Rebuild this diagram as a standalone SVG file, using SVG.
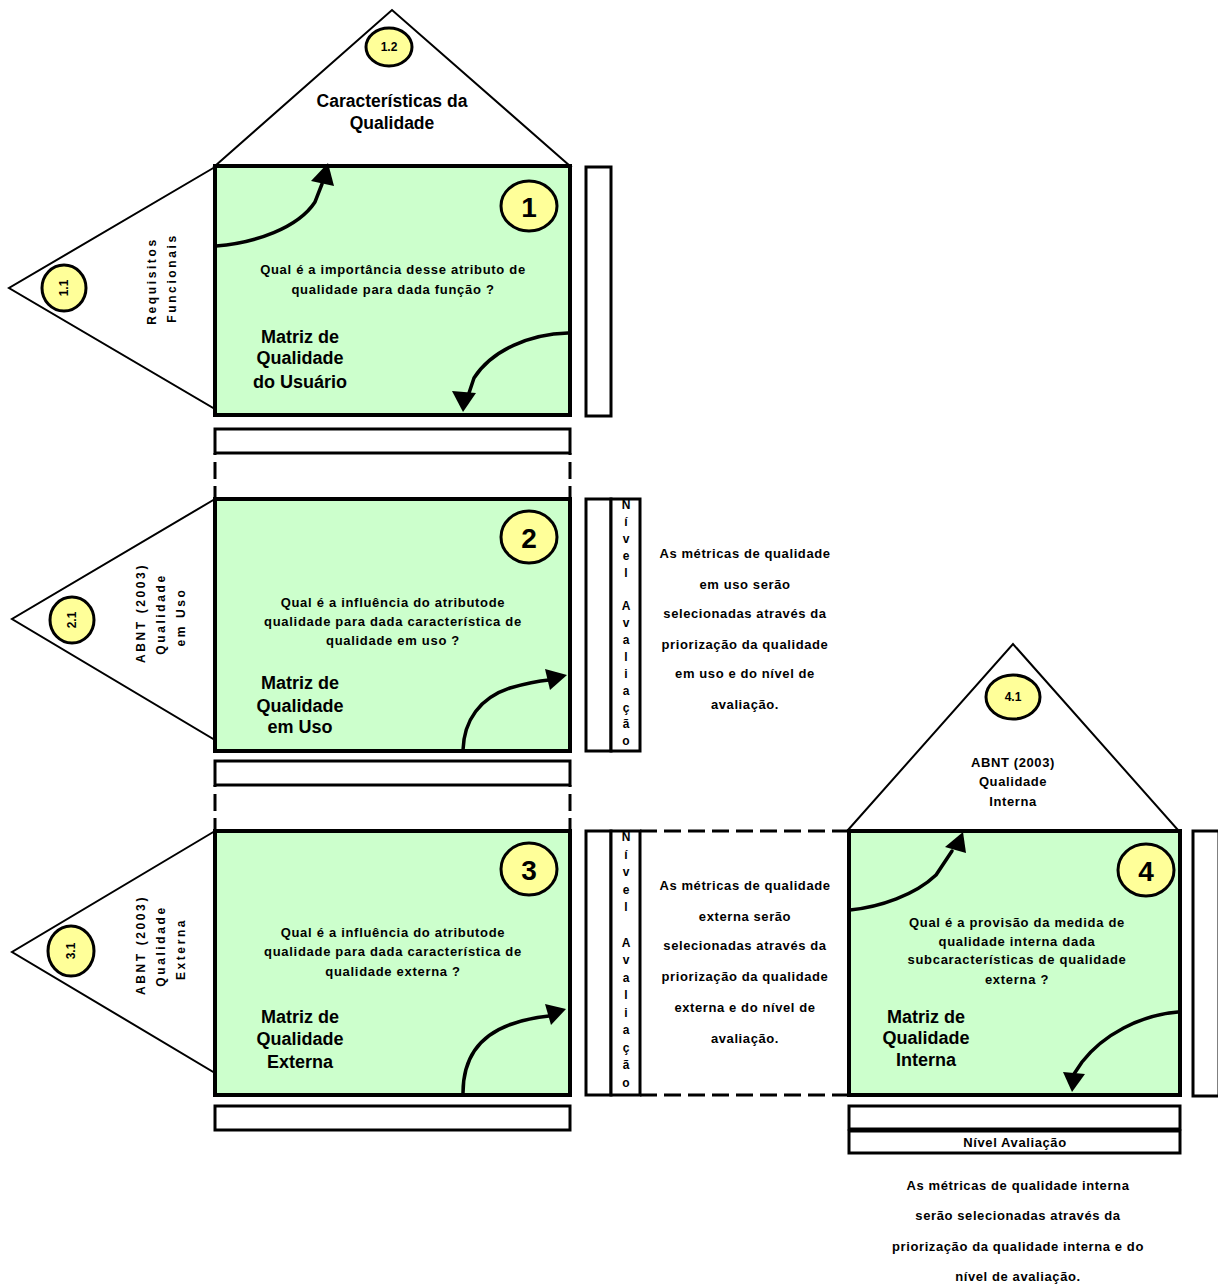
<svg xmlns="http://www.w3.org/2000/svg" width="1218" height="1284" viewBox="0 0 1218 1284">
  <style>
    .box { fill: #CCFFCC; stroke: #000; stroke-width: 4; }
    .tri { fill: #fff; stroke: #000; stroke-width: 2; stroke-linejoin: miter; }
    .bar { fill: #fff; stroke: #000; stroke-width: 3; }
    .badge { fill: #FFFF99; stroke: #000; stroke-width: 3; }
    .dash { fill: none; stroke: #000; stroke-width: 3; stroke-dasharray: 17 7; }
    .arr { fill: none; stroke: #000; stroke-width: 3.5; stroke-linecap: round; }
    .head { fill: #000; }
    text { font-family: "Liberation Sans", Arial, sans-serif; font-weight: bold; fill: #000; text-anchor: middle; dominant-baseline: central; }
    .q { font-size: 13px; letter-spacing: 0.7px; }
    .title { font-size: 18px; }
    .roof { font-size: 17.5px; }
    .side { font-size: 12px; letter-spacing: 2.6px; }
    .num { font-size: 28px; }
    .sub { font-size: 12px; }
    .note { font-size: 13px; letter-spacing: 0.6px; }
    .col { font-size: 12px; }
  </style>

  <!-- Matrix 1: user quality -->
  <g id="matrix-1">
    <polygon class="tri" points="215,166 392,10 570,166"/>
    <polygon class="tri" points="215,167 9,288 215,409"/>
    <rect class="box" x="215" y="166" width="355" height="249"/>
    <rect class="bar" x="586" y="167" width="25" height="249"/>
    <ellipse class="badge" cx="389" cy="47" rx="23" ry="19"/>
    <text class="sub" x="389" y="47">1.2</text>
    <text class="roof" x="392" y="101">Características da</text>
    <text class="roof" x="392" y="123">Qualidade</text>
    <ellipse class="badge" cx="64" cy="288" rx="22" ry="23"/>
    <text class="sub" transform="translate(64,288) rotate(-90)">1.1</text>
    <text class="side" transform="translate(152,281) rotate(-90)">Requisitos</text>
    <text class="side" transform="translate(172,278) rotate(-90)">Funcionais</text>
    <ellipse class="badge" cx="529" cy="206" rx="28" ry="25"/>
    <text class="num" x="529" y="207">1</text>
    <text class="q" x="393" y="269">Qual é a importância desse atributo de</text>
    <text class="q" x="393" y="289">qualidade para dada função ?</text>
    <text class="title" x="300" y="337">Matriz de</text>
    <text class="title" x="300" y="358">Qualidade</text>
    <text class="title" x="300" y="382">do Usuário</text>
    <rect class="bar" x="215" y="429" width="355" height="24"/>
  </g>

  <!-- Matrix 2: quality in use -->
  <g id="matrix-2">
    <polygon class="tri" points="215,499 12,619 215,740"/>
    <rect class="box" x="215" y="499" width="355" height="252"/>
    <rect class="bar" x="586" y="499" width="25" height="252"/>
    <rect class="bar" x="611" y="499" width="29" height="252"/>
    <ellipse class="badge" cx="72" cy="620" rx="22" ry="23"/>
    <text class="sub" transform="translate(72,620) rotate(-90)">2.1</text>
    <text class="side" transform="translate(141,613) rotate(-90)">ABNT (2003)</text>
    <text class="side" transform="translate(161,614) rotate(-90)">Qualidade</text>
    <text class="side" transform="translate(181,617) rotate(-90)">em Uso</text>
    <ellipse class="badge" cx="529" cy="537" rx="28" ry="26"/>
    <text class="num" x="529" y="538">2</text>
    <text class="q" x="393" y="602">Qual é a influência do atributode</text>
    <text class="q" x="393" y="621">qualidade para dada característica de</text>
    <text class="q" x="393" y="640">qualidade em uso ?</text>
    <text class="title" x="300" y="683">Matriz de</text>
    <text class="title" x="300" y="706">Qualidade</text>
    <text class="title" x="300" y="727">em Uso</text>
    <rect class="bar" x="215" y="761" width="355" height="24"/>
    <g class="col">
      <text class="col" x="626" y="505">N</text>
      <text class="col" x="626" y="522">í</text>
      <text class="col" x="626" y="539">v</text>
      <text class="col" x="626" y="556">e</text>
      <text class="col" x="626" y="573">l</text>
      <text class="col" x="626" y="606">A</text>
      <text class="col" x="626" y="623">v</text>
      <text class="col" x="626" y="640">a</text>
      <text class="col" x="626" y="657">l</text>
      <text class="col" x="626" y="674">i</text>
      <text class="col" x="626" y="691">a</text>
      <text class="col" x="626" y="708">ç</text>
      <text class="col" x="626" y="724">ã</text>
      <text class="col" x="626" y="741">o</text>
    </g>
    <text class="note" x="745" y="553">As métricas de qualidade</text>
    <text class="note" x="745" y="584">em uso serão</text>
    <text class="note" x="745" y="613">selecionadas através da</text>
    <text class="note" x="745" y="644">priorização da qualidade</text>
    <text class="note" x="745" y="673">em uso e do nível de</text>
    <text class="note" x="745" y="704">avaliação.</text>
  </g>

  <!-- Matrix 3: external quality -->
  <g id="matrix-3">
    <polygon class="tri" points="215,831 12,952 215,1073"/>
    <rect class="box" x="215" y="831" width="355" height="264"/>
    <rect class="bar" x="586" y="831" width="25" height="264"/>
    <rect class="bar" x="611" y="831" width="29" height="264"/>
    <ellipse class="badge" cx="71" cy="951" rx="23" ry="25"/>
    <text class="sub" transform="translate(71,951) rotate(-90)">3.1</text>
    <text class="side" transform="translate(141,945) rotate(-90)">ABNT (2003)</text>
    <text class="side" transform="translate(161,946) rotate(-90)">Qualidade</text>
    <text class="side" transform="translate(181,949) rotate(-90)">Externa</text>
    <ellipse class="badge" cx="529" cy="869" rx="28" ry="26"/>
    <text class="num" x="529" y="870">3</text>
    <text class="q" x="393" y="932">Qual é a influência do atributode</text>
    <text class="q" x="393" y="951">qualidade para dada característica de</text>
    <text class="q" x="393" y="971">qualidade externa ?</text>
    <text class="title" x="300" y="1017">Matriz de</text>
    <text class="title" x="300" y="1039">Qualidade</text>
    <text class="title" x="300" y="1062">Externa</text>
    <rect class="bar" x="215" y="1106" width="355" height="24"/>
    <g class="col">
      <text class="col" x="626" y="837">N</text>
      <text class="col" x="626" y="855">í</text>
      <text class="col" x="626" y="872">v</text>
      <text class="col" x="626" y="890">e</text>
      <text class="col" x="626" y="907">l</text>
      <text class="col" x="626" y="943">A</text>
      <text class="col" x="626" y="960">v</text>
      <text class="col" x="626" y="978">a</text>
      <text class="col" x="626" y="995">l</text>
      <text class="col" x="626" y="1013">i</text>
      <text class="col" x="626" y="1030">a</text>
      <text class="col" x="626" y="1048">ç</text>
      <text class="col" x="626" y="1065">ã</text>
      <text class="col" x="626" y="1083">o</text>
    </g>
    <text class="note" x="745" y="885">As métricas de qualidade</text>
    <text class="note" x="745" y="916">externa serão</text>
    <text class="note" x="745" y="945">selecionadas através da</text>
    <text class="note" x="745" y="976">priorização da qualidade</text>
    <text class="note" x="745" y="1007">externa e do nível de</text>
    <text class="note" x="745" y="1038">avaliação.</text>
  </g>

  <!-- Matrix 4: internal quality -->
  <g id="matrix-4">
    <polygon class="tri" points="848,830 1013,644 1178,830"/>
    <rect class="box" x="849" y="831" width="331" height="264"/>
    <rect class="bar" x="1193" y="831" width="26" height="265"/>
    <ellipse class="badge" cx="1013" cy="697" rx="27" ry="22"/>
    <text class="sub" x="1013" y="697">4.1</text>
    <text class="note" x="1013" y="762">ABNT (2003)</text>
    <text class="note" x="1013" y="781">Qualidade</text>
    <text class="note" x="1013" y="801">Interna</text>
    <ellipse class="badge" cx="1146" cy="870" rx="28" ry="26"/>
    <text class="num" x="1146" y="871">4</text>
    <text class="q" x="1017" y="922">Qual é a provisão da medida de</text>
    <text class="q" x="1017" y="941">qualidade interna dada</text>
    <text class="q" x="1017" y="959">subcaracterísticas de qualidade</text>
    <text class="q" x="1017" y="979">externa ?</text>
    <text class="title" x="926" y="1017">Matriz de</text>
    <text class="title" x="926" y="1038">Qualidade</text>
    <text class="title" x="926" y="1060">Interna</text>
    <rect class="bar" x="849" y="1106" width="331" height="23"/>
    <rect class="bar" x="849" y="1131" width="331" height="22"/>
    <text class="note" x="1015" y="1142">Nível Avaliação</text>
    <text class="note" x="1018" y="1185">As métricas de qualidade interna</text>
    <text class="note" x="1018" y="1215">serão selecionadas através da</text>
    <text class="note" x="1018" y="1246">priorização da qualidade interna e do</text>
    <text class="note" x="1018" y="1276">nível de avaliação.</text>
  </g>

  <!-- Connectors: dashed joints and curved flow arrows -->
  <g id="connectors">
    <line class="dash" x1="215" y1="453" x2="215" y2="499" stroke-dashoffset="-9"/>
    <line class="dash" x1="570" y1="453" x2="570" y2="499" stroke-dashoffset="-9"/>
    <line class="dash" x1="215" y1="785" x2="215" y2="831" stroke-dashoffset="-9"/>
    <line class="dash" x1="570" y1="785" x2="570" y2="831" stroke-dashoffset="-9"/>
    <line class="dash" x1="640" y1="831" x2="849" y2="831"/>
    <line class="dash" x1="640" y1="1095" x2="849" y2="1095"/>

    <path class="arr" d="M216,246 C255,243 298,228 315,202 L322,184"/>
    <polygon class="head" points="328,163 311,181 334,186"/>

    <path class="arr" d="M568,333 C530,334 492,350 474,378 L469,393"/>
    <polygon class="head" points="463,412 452,391 476,393"/>

    <path class="arr" d="M463,750 C464,720 480,698 510,688 C524,684 538,681 549,680"/>
    <polygon class="head" points="567,675 545,669 550,690"/>

    <path class="arr" d="M463,1093 C463,1058 480,1035 512,1024 C526,1019 539,1017 549,1016"/>
    <polygon class="head" points="566,1009 545,1004 551,1025"/>

    <path class="arr" d="M850,910 C880,907 915,895 936,875 L952,851"/>
    <polygon class="head" points="963,832 945,847 966,853"/>

    <path class="arr" d="M1178,1012 C1140,1015 1103,1035 1082,1062 L1074,1074"/>
    <polygon class="head" points="1072,1092 1063,1072 1085,1074"/>
  </g>
</svg>
